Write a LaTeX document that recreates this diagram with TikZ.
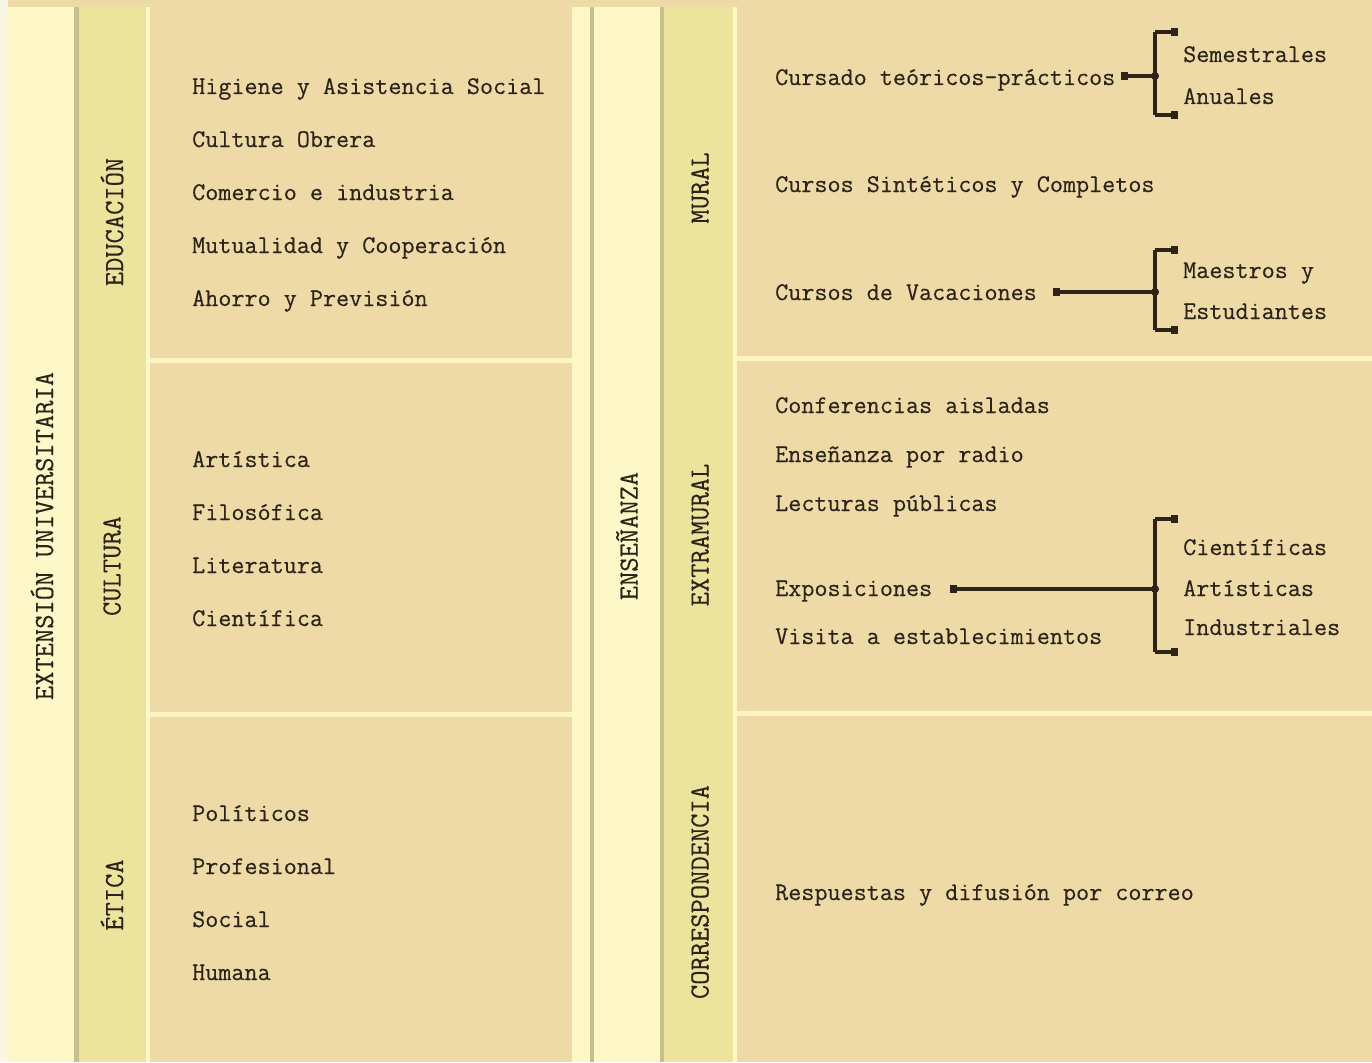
\documentclass[tikz,border=0pt]{standalone}
\usepackage{fontspec}
\newfontfamily\tw[FakeBold=0.35]{Latin Modern Mono}
\usetikzlibrary{arrows.meta}
\definecolor{tanbox}{RGB}{237,218,166}
\definecolor{palecol}{RGB}{254,248,200}
\definecolor{yelcol}{RGB}{236,228,156}
\definecolor{graydiv}{RGB}{200,192,140}
\definecolor{edgecol}{RGB}{250,246,228}
\definecolor{sepcol}{RGB}{253,244,196}
\definecolor{ink}{RGB}{44,36,24}
\tikzset{
  item/.style={anchor=base west, inner sep=0pt, text=ink, font=\tw\fontsize{25.4}{28}\selectfont},
  vlabel/.style={rotate=90, inner sep=0pt, text=ink, font=\tw\fontsize{27.7}{30}\selectfont},
  conn/.style={draw=ink, line width=3.4pt},
  startsq/.style={conn, {Square[length=7pt,width=8pt]}-},
  tick/.style={conn, -{Square[length=7pt,width=8pt]}},
  jdot/.style={circle, fill=ink, inner sep=0pt, minimum size=8pt}
}
\begin{document}
\begin{tikzpicture}[x=1pt,y=-1pt]
\useasboundingbox (0,0) rectangle (1372,1062);
% backgrounds
\fill[edgecol] (0,0) rectangle (8,1062);
\fill[tanbox] (8,0) rectangle (1372,7);
\fill[palecol] (8,7) rectangle (74,1062);
\fill[graydiv] (74,7) rectangle (79,1062);
\fill[yelcol] (79,7) rectangle (146,1062);
\fill[palecol] (146,7) rectangle (150,1062);
\fill[tanbox] (150,7) rectangle (572,1062);
\fill[sepcol] (150,358) rectangle (572,363);
\fill[sepcol] (150,712) rectangle (572,717);
\fill[palecol] (572,7) rectangle (590,1062);
\fill[graydiv] (590,7) rectangle (594,1062);
\fill[palecol] (594,7) rectangle (660,1062);
\fill[graydiv] (660,7) rectangle (664,1062);
\fill[yelcol] (664,7) rectangle (733,1062);
\fill[palecol] (733,7) rectangle (737,1062);
\fill[tanbox] (737,7) rectangle (1372,1062);
\fill[sepcol] (737,356) rectangle (1372,361);
\fill[sepcol] (737,711) rectangle (1372,716);

% vertical labels
\node[vlabel] (ext) at (42,536) {EXTENSIÓN UNIVERSITARIA};
\node[vlabel] (edu) at (112,222) {EDUCACIÓN};
\node[vlabel] (cul) at (112,566) {CULTURA};
\node[vlabel] (eti) at (112,895) {ÉTICA};
\node[vlabel] (ens) at (627,536) {ENSEÑANZA};
\node[vlabel] (mur) at (700,188) {MURAL};
\node[vlabel] (extra) at (700,535) {EXTRAMURAL};
\node[vlabel] (corr) at (700,892) {CORRESPONDENCIA};

% left items
\node[item] (e1) at (192,94) {Higiene y Asistencia Social};
\node[item] (e2) at (192,147) {Cultura Obrera};
\node[item] (e3) at (192,200) {Comercio e industria};
\node[item] (e4) at (192,253) {Mutualidad y Cooperación};
\node[item] (e5) at (192,306) {Ahorro y Previsión};
\node[item] (c1) at (192,467) {Artística};
\node[item] (c2) at (192,520) {Filosófica};
\node[item] (c3) at (192,573) {Literatura};
\node[item] (c4) at (192,626) {Científica};
\node[item] (t1) at (192,821) {Políticos};
\node[item] (t2) at (192,874) {Profesional};
\node[item] (t3) at (192,927) {Social};
\node[item] (t4) at (192,980) {Humana};

% right items
\node[item] (m1) at (775,85) {Cursado teóricos-prácticos};
\node[item] (m1a) at (1183,62) {Semestrales};
\node[item] (m1b) at (1183,104) {Anuales};
\node[item] (m2) at (775,192) {Cursos Sintéticos y Completos};
\node[item] (m3) at (775,300) {Cursos de Vacaciones};
\node[item] (m3a) at (1183,278) {Maestros y};
\node[item] (m3b) at (1183,319) {Estudiantes};
\node[item] (x1) at (775,413) {Conferencias aisladas};
\node[item] (x2) at (775,462) {Enseñanza por radio};
\node[item] (x3) at (775,511) {Lecturas públicas};
\node[item] (x4) at (775,596) {Exposiciones};
\node[item] (x5) at (775,644) {Visita a establecimientos};
\node[item] (x4a) at (1183,555) {Científicas};
\node[item] (x4b) at (1183,596) {Artísticas};
\node[item] (x4c) at (1183,635) {Industriales};
\node[item] (r1) at (775,900) {Respuestas y difusión por correo};

% bracket 1
\coordinate (s1) at (1121,76);
\coordinate (j1) at (1155,76);
\coordinate (j1t) at (1155,32);
\coordinate (j1b) at (1155,115);
\coordinate (j1te) at (1178,32);
\coordinate (j1be) at (1178,115);
\draw[startsq] (s1) -- (j1);
\draw[conn] (j1t) -- (j1b);
\draw[tick] (j1t) -- (j1te);
\draw[tick] (j1b) -- (j1be);
\node[jdot] at (j1) {};

% bracket 2
\coordinate (s2) at (1053,292);
\coordinate (j2) at (1155,292);
\coordinate (j2t) at (1155,250);
\coordinate (j2b) at (1155,330);
\coordinate (j2te) at (1178,250);
\coordinate (j2be) at (1178,330);
\draw[startsq] (s2) -- (j2);
\draw[conn] (j2t) -- (j2b);
\draw[tick] (j2t) -- (j2te);
\draw[tick] (j2b) -- (j2be);
\node[jdot] at (j2) {};

% bracket 3
\coordinate (s3) at (950,589);
\coordinate (j3) at (1155,589);
\coordinate (j3t) at (1155,519);
\coordinate (j3b) at (1155,652);
\coordinate (j3te) at (1178,519);
\coordinate (j3be) at (1178,652);
\draw[startsq] (s3) -- (j3);
\draw[conn] (j3t) -- (j3b);
\draw[tick] (j3t) -- (j3te);
\draw[tick] (j3b) -- (j3be);
\node[jdot] at (j3) {};
\end{tikzpicture}
\end{document}
